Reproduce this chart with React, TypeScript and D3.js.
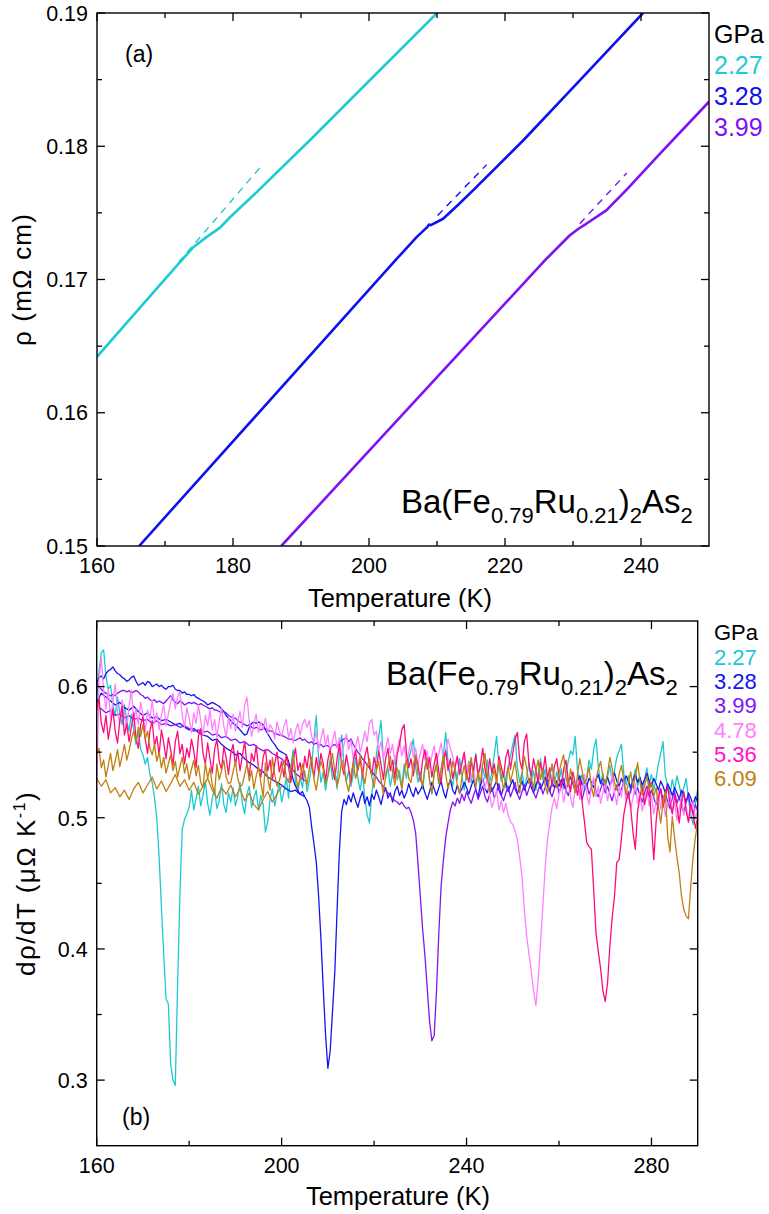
import React from "react";
import * as d3 from "d3";

const FONT = "'Liberation Sans', Arial, Helvetica, sans-serif";

// ---------- Panel (a): resistivity ----------
const pressuresA = ["2.27", "3.28", "3.99"];
const colorsA = ["#1ecbd3", "#1010ee", "#8010f5"];

const rhoT227 = [160, 166, 172.2, 174.2, 176.1, 178.1, 179.6, 183, 191.3, 200, 210];
const rho227 = [0.1642, 0.1677, 0.1713, 0.17244, 0.17318, 0.17389, 0.17469, 0.17632, 0.18045, 0.1849, 0.19];
const rhoT328 = [166.2, 180, 195, 204.1, 207, 208.6, 208.8, 209.1, 210.9, 213, 215.3, 222.7, 230, 240.3];
const rho328 = [0.15, 0.15785, 0.16639, 0.17156, 0.17318, 0.17395, 0.17412, 0.17408, 0.17456, 0.17555, 0.17669, 0.18045, 0.1844, 0.19];
const rhoT399 = [187.1, 200, 215, 226.1, 229.5, 230.8, 232, 234.9, 238, 242.8, 250];
const rho399 = [0.15, 0.15713, 0.16543, 0.17156, 0.1733, 0.17381, 0.1742, 0.17519, 0.1768, 0.17945, 0.18334];

const dashT227 = [172, 184.4];
const dash227 = [0.1713, 0.17865];
const dashT328 = [210.1, 217.3];
const dash328 = [0.17481, 0.17862];
const dashT399 = [231.0, 237.9];
const dash399 = [0.17419, 0.17799];

// ---------- Panel (b): derivative, sampled every 0.5 K from 160 K ----------
const pressuresB = ["2.27", "3.28", "3.99", "4.78", "5.36", "6.09"];
const lineColorsB = ["#1cc8d4", "#1414f0", "#8214f5", "#ff80ff", "#ff0a78", "#c08010"];
const legendColorsB = ["#1cc8d4", "#1414f0", "#8214f5", "#ff80ff", "#ff10d0", "#c08010"];
const T0 = 160;
const DT = 0.5;

const drv227 = [
  .590,.612,.626,.628,.608,.598,.601,.585,.578,.592,.580,.571,.586,.574,.566,.579,.568,.556,.566,.552,
  .548,.541,.546,.533,.527,.515,.500,.470,.432,.396,.362,.358,.312,.300,.296,.373,.442,.491,.499,.503,
  .508,.521,.506,.515,.524,.509,.517,.528,.511,.502,.515,.522,.507,.513,.526,.510,.504,.519,.512,.523,
  .509,.516,.527,.511,.503,.518,.524,.508,.515,.521,.506,.517,.510,.489,.497,.514,.522,.509,.518,.526,
  .512,.520,.531,.515,.538,.552,.527,.519,.531,.523,.536,.520,.528,.541,.560,.578,.544,.527,.535,.521,
  .532,.545,.529,.538,.522,.551,.563,.540,.528,.536,.524,.533,.546,.530,.521,.534,.515,.502,.496,.518,
  .531,.548,.562,.574,.545,.530,.538,.524,.533,.547,.529,.536,.523,.541,.530,.545,.552,.560,.538,.527,
  .535,.522,.537,.546,.529,.518,.533,.541,.526,.537,.548,.565,.542,.531,.524,.538,.529,.545,.532,.521,
  .534,.543,.527,.536,.549,.531,.522,.538,.530,.544,.527,.535,.548,.562,.540,.528,.534,.523,.539,.547,
  .556,.563,.538,.527,.535,.522,.531,.542,.528,.536,.521,.533,.545,.529,.537,.524,.532,.540,.526,.535,
  .528,.537,.522,.534,.543,.551,.548,.562,.536,.527,.533,.521,.531,.544,.537,.552,.560,.539,.526,.534,
  .522,.531,.540,.528,.536,.546,.551,.556,.534,.525,.532,.519,.528,.537,.524,.531,.520,.529,.538,.526,
  .533,.521,.530,.541,.549,.558,.532,.524,.518,.529,.521,.532,.525,.516,.523,.530,.514,.503,.495,.511,
  .522,
];
const drv328 = [
  .603,.607,.608,.606,.610,.612,.613,.615,.612,.610,.609,.607,.606,.604,.605,.607,.608,.604,.601,.602,
  .603,.601,.604,.603,.600,.601,.602,.600,.601,.599,.598,.600,.600,.601,.598,.597,.597,.595,.596,.594,
  .594,.593,.594,.592,.591,.590,.589,.588,.586,.587,.588,.587,.586,.585,.583,.581,.578,.576,.574,.572,
  .571,.569,.567,.565,.563,.564,.569,.572,.573,.572,.573,.572,.571,.567,.564,.561,.558,.556,.553,.551,
  .550,.549,.548,.543,.536,.529,.524,.521,.518,.520,.516,.513,.508,.493,.480,.466,.440,.408,.370,.335,
  .309,.322,.352,.382,.430,.475,.505,.514,.510,.517,.512,.519,.513,.508,.515,.520,.511,.516,.509,.518,
  .514,.521,.516,.510,.518,.523,.515,.519,.512,.520,.524,.517,.521,.515,.519,.526,.520,.516,.523,.518,
  .521,.525,.519,.514,.520,.527,.522,.517,.523,.528,.520,.515,.524,.529,.521,.518,.525,.519,.522,.527,
  .523,.518,.524,.529,.521,.516,.525,.530,.522,.519,.526,.520,.524,.528,.521,.517,.523,.527,.520,.525,
  .529,.522,.518,.524,.528,.521,.526,.530,.523,.519,.525,.529,.522,.526,.531,.524,.520,.527,.523,.528,
  .524,.529,.525,.521,.527,.531,.526,.522,.528,.532,.525,.529,.524,.530,.527,.523,.529,.533,.526,.530,
  .527,.531,.525,.529,.534,.528,.524,.530,.526,.532,.528,.523,.529,.533,.527,.531,.525,.529,.534,.528,
  .524,.530,.526,.521,.528,.524,.519,.526,.522,.517,.523,.519,.514,.521,.517,.512,.519,.515,.510,.516,
  .512,
];
const drv399 = [
  .603,.600,.598,.596,.595,.594,.593,.594,.593,.595,.596,.597,.597,.596,.597,.595,.596,.597,.596,.594,
  .593,.591,.592,.590,.589,.590,.588,.589,.588,.587,.589,.591,.593,.590,.588,.587,.589,.588,.586,.587,
  .588,.587,.588,.587,.586,.587,.586,.585,.584,.583,.584,.582,.582,.581,.580,.581,.580,.578,.577,.576,
  .576,.574,.573,.572,.571,.570,.571,.569,.568,.569,.568,.567,.568,.568,.567,.566,.566,.564,.564,.563,
  .563,.562,.561,.560,.560,.559,.559,.560,.561,.559,.560,.558,.557,.558,.556,.557,.555,.556,.554,.555,
  .555,.553,.555,.556,.554,.557,.559,.560,.561,.558,.560,.556,.553,.550,.548,.545,.543,.540,.538,.535,
  .533,.531,.528,.526,.524,.521,.519,.517,.515,.513,.512,.510,.512,.509,.507,.508,.504,.498,.488,.465,
  .440,.415,.395,.370,.345,.330,.334,.368,.412,.448,.468,.485,.496,.506,.512,.509,.515,.511,.518,.513,
  .520,.515,.511,.517,.522,.514,.519,.524,.516,.512,.518,.523,.515,.520,.526,.517,.513,.519,.524,.516,
  .521,.527,.518,.514,.520,.525,.517,.522,.528,.519,.515,.521,.526,.518,.523,.529,.520,.516,.522,.527,
  .519,.524,.530,.521,.517,.523,.528,.520,.525,.519,.514,.521,.526,.518,.523,.529,.520,.516,.522,.527,
  .519,.524,.518,.513,.520,.525,.517,.522,.527,.519,.515,.521,.526,.518,.523,.517,.512,.519,.524,.516,
  .521,.515,.510,.517,.522,.514,.519,.512,.507,.515,.520,.511,.516,.509,.504,.512,.517,.508,.503,.510,
  .505,
];
const drv478 = [
  .520,.605,.622,.596,.583,.598,.576,.589,.602,.581,.572,.590,.579,.568,.585,.597,.574,.583,.571,.588,
  .579,.566,.582,.575,.590,.572,.580,.567,.578,.586,.570,.579,.588,.595,.583,.592,.596,.578,.569,.584,
  .576,.565,.580,.572,.586,.574,.563,.578,.570,.582,.567,.575,.561,.574,.583,.570,.562,.576,.568,.579,
  .566,.573,.581,.569,.586,.592,.574,.562,.571,.579,.565,.573,.567,.576,.564,.571,.568,.560,.573,.566,
  .562,.570,.575,.561,.568,.557,.566,.572,.563,.571,.575,.569,.574,.562,.557,.566,.552,.560,.568,.555,
  .563,.549,.558,.566,.553,.561,.547,.556,.564,.552,.559,.545,.554,.562,.550,.557,.566,.558,.572,.575,
  .563,.566,.551,.558,.545,.553,.561,.549,.556,.543,.552,.560,.547,.555,.541,.550,.558,.546,.553,.540,
  .549,.556,.544,.551,.538,.547,.555,.542,.549,.557,.545,.552,.560,.553,.547,.539,.546,.533,.541,.548,
  .535,.542,.530,.538,.526,.534,.541,.528,.522,.531,.517,.508,.514,.521,.506,.513,.504,.511,.502,.497,
  .495,.490,.483,.470,.455,.430,.410,.396,.383,.368,.357,.377,.405,.432,.462,.483,.496,.508,.515,.507,
  .518,.526,.512,.521,.530,.515,.508,.522,.529,.514,.520,.533,.518,.510,.523,.531,.516,.524,.511,.519,
  .527,.513,.521,.534,.519,.510,.524,.516,.529,.512,.520,.507,.515,.526,.511,.519,.505,.514,.522,.509,
  .517,.503,.512,.520,.507,.515,.501,.510,.518,.504,.512,.498,.507,.515,.502,.509,.496,.505,.512,.499,
  .506,
];
const drv536 = [
  .582,.591,.572,.565,.578,.560,.571,.583,.566,.557,.574,.585,.563,.572,.558,.569,.580,.561,.553,.571,
  .577,.560,.549,.566,.574,.555,.562,.548,.567,.557,.545,.561,.552,.540,.558,.566,.549,.556,.541,.553,
  .546,.560,.551,.538,.562,.568,.549,.541,.557,.545,.534,.552,.560,.543,.537,.554,.546,.533,.549,.556,
  .540,.551,.536,.547,.558,.541,.532,.549,.543,.555,.538,.531,.546,.552,.536,.544,.529,.541,.550,.535,
  .543,.531,.548,.539,.527,.544,.553,.536,.542,.530,.547,.538,.552,.540,.531,.546,.535,.549,.541,.528,
  .544,.552,.537,.529,.545,.556,.540,.533,.548,.538,.527,.543,.551,.536,.545,.531,.547,.554,.539,.532,
  .546,.537,.551,.541,.529,.545,.553,.536,.544,.530,.548,.556,.567,.571,.549,.538,.545,.532,.547,.540,
  .528,.544,.552,.537,.546,.531,.541,.549,.535,.527,.543,.551,.536,.545,.530,.538,.547,.533,.542,.550,
  .534,.527,.543,.536,.548,.532,.540,.553,.537,.529,.545,.534,.541,.528,.547,.539,.531,.546,.552,.537,
  .549,.560,.565,.544,.537,.558,.564,.541,.532,.545,.536,.527,.542,.534,.547,.530,.538,.524,.539,.545,
  .531,.523,.537,.544,.528,.520,.535,.526,.517,.530,.512,.497,.481,.478,.476,.445,.412,.398,.385,.368,
  .360,.374,.402,.424,.440,.466,.468,.484,.502,.512,.520,.508,.489,.476,.505,.516,.524,.510,.518,.527,
  .495,.468,.497,.515,.522,.508,.516,.524,.511,.503,.517,.509,.496,.512,.520,.505,.497,.511,.503,.492,
  .500,
];
const drv609 = [
  .548,.553,.538,.544,.531,.540,.549,.536,.543,.552,.539,.547,.556,.544,.551,.560,.566,.558,.569,.562,
  .571,.560,.566,.553,.548,.556,.543,.550,.538,.546,.534,.541,.548,.536,.543,.531,.539,.546,.534,.541,
  .529,.537,.544,.532,.540,.527,.523,.542,.530,.538,.525,.519,.541,.529,.536,.544,.531,.526,.527,.535,
  .543,.530,.524,.525,.533,.541,.528,.536,.522,.532,.539,.527,.516,.542,.530,.521,.546,.533,.524,.528,
  .536,.544,.531,.527,.539,.548,.535,.523,.530,.541,.533,.525,.538,.546,.529,.521,.534,.543,.537,.526,
  .532,.540,.549,.535,.524,.531,.544,.538,.527,.520,.533,.542,.530,.537,.548,.534,.526,.539,.545,.531,
  .523,.536,.543,.529,.518,.532,.540,.547,.534,.525,.538,.531,.522,.535,.544,.530,.527,.541,.548,.533,
  .532,.524,.539,.545,.528,.519,.534,.541,.526,.537,.548,.533,.522,.530,.543,.536,.525,.518,.531,.540,
  .529,.538,.546,.531,.523,.535,.527,.541,.549,.532,.520,.529,.537,.526,.544,.533,.521,.530,.539,.527,
  .535,.543,.528,.519,.533,.547,.538,.526,.531,.522,.536,.544,.529,.537,.525,.518,.532,.541,.530,.523,
  .534,.542,.548,.531,.524,.537,.528,.519,.533,.545,.536,.526,.530,.539,.524,.516,.529,.537,.543,.531,
  .525,.534,.546,.538,.527,.521,.533,.540,.529,.518,.526,.535,.523,.531,.542,.528,.517,.524,.532,.521,
  .527,.516,.523,.509,.496,.512,.520,.486,.474,.501,.485,.470,.458,.440,.430,.425,.423,.448,.470,.485,
  .498,
];

// second sweeps visible at low temperature, sampled every 1 K from 160 K
const DTB = 1;
const drv328b = [
  .588,.595,.592,.589,.586,.588,.584,.582,.585,.581,.578,.580,.576,.577,.574,.575,.573,.571,.572,.569,
  .567,.568,.565,.563,.562,.559,.560,.556,.553,.551,.548,.549,.545,.542,.540,.537,.535,.531,.529,.527,
  .525,.522,.520,.521,.518,.516,
];
const drv399b = [
  .585,.583,.580,.582,.578,.579,.576,.578,.575,.576,.574,.575,.572,.574,.571,.572,.570,.571,.569,.570,
  .568,.566,.567,.565,.566,.563,.564,.561,.562,.559,.560,.557,.558,.555,.556,.553,.551,.552,.549,.547,
  .545,.541,.538,.534,.531,.528,
];
const drv609b = [
  .530,.524,.529,.519,.523,.516,.521,.514,.522,.527,.519,.525,.531,.522,.528,.520,.526,.533,.524,.529,
  .521,.527,.518,.524,.530,.521,.515,.523,.518,.525,.516,.522,.513,.519,.510,.506,.514,.520,.512,.518,
  .524,
];

// ---------- layout ----------
const A = { x0: 97, x1: 709, y0: 13, y1: 546 };
const B = { x0: 96.7, x1: 697.7, y0: 621, y1: 1145.7 };

const xA = d3.scaleLinear().domain([160, 250]).range([A.x0, A.x1]);
const yA = d3.scaleLinear().domain([0.15, 0.19]).range([A.y1, A.y0]);
const xB = d3.scaleLinear().domain([160, 290]).range([B.x0, B.x1]);
const yB = d3.scaleLinear().domain([0.25, 0.65]).range([B.y1, B.y0]);

const MAJ = 8;
const MIN = 5;
const TICK_FS = 21.5;

function Frame({ box, xs, ys, xMaj, xMin, yMaj, yMin, yFmt }: any) {
  const els: any[] = [];
  const st = { stroke: "#000", strokeWidth: 1.3 };
  xMaj.forEach((t: number, i: number) => {
    const x = xs(t);
    els.push(<line key={"xb" + i} x1={x} x2={x} y1={box.y1} y2={box.y1 - MAJ} {...st} />);
    els.push(<line key={"xt" + i} x1={x} x2={x} y1={box.y0} y2={box.y0 + MAJ} {...st} />);
    els.push(
      <text key={"xl" + i} x={x} y={box.y1 + 27} textAnchor="middle" fontSize={TICK_FS} fontFamily={FONT}>
        {String(t)}
      </text>
    );
  });
  xMin.forEach((t: number, i: number) => {
    const x = xs(t);
    els.push(<line key={"xmb" + i} x1={x} x2={x} y1={box.y1} y2={box.y1 - MIN} {...st} />);
    els.push(<line key={"xmt" + i} x1={x} x2={x} y1={box.y0} y2={box.y0 + MIN} {...st} />);
  });
  yMaj.forEach((t: number, i: number) => {
    const y = ys(t);
    els.push(<line key={"yl" + i} x1={box.x0} x2={box.x0 + MAJ} y1={y} y2={y} {...st} />);
    els.push(<line key={"yr" + i} x1={box.x1} x2={box.x1 - MAJ} y1={y} y2={y} {...st} />);
    els.push(
      <text key={"ylab" + i} x={box.x0 - 9} y={y} dy="0.36em" textAnchor="end" fontSize={TICK_FS} fontFamily={FONT}>
        {yFmt(t)}
      </text>
    );
  });
  yMin.forEach((t: number, i: number) => {
    const y = ys(t);
    els.push(<line key={"yml" + i} x1={box.x0} x2={box.x0 + MIN} y1={y} y2={y} {...st} />);
    els.push(<line key={"ymr" + i} x1={box.x1} x2={box.x1 - MIN} y1={y} y2={y} {...st} />);
  });
  els.push(
    <rect key="frame" x={box.x0} y={box.y0} width={box.x1 - box.x0} height={box.y1 - box.y0}
      fill="none" stroke="#000" strokeWidth={1.4} />
  );
  return <g>{els}</g>;
}

function Formula({ x, y }: { x: number; y: number }) {
  const sub = 10;
  return (
    <text x={x} y={y} fontSize={33} fontFamily={FONT} fill="#000">
      <tspan>Ba(Fe</tspan>
      <tspan fontSize={22} dy={sub}>0.79</tspan>
      <tspan dy={-sub}>Ru</tspan>
      <tspan fontSize={22} dy={sub}>0.21</tspan>
      <tspan dy={-sub}>)</tspan>
      <tspan fontSize={22} dy={sub}>2</tspan>
      <tspan dy={-sub}>As</tspan>
      <tspan fontSize={22} dy={sub}>2</tspan>
    </text>
  );
}

export default function App() {
  const lineA = d3.line<[number, number]>().x((d) => xA(d[0])).y((d) => yA(d[1]));
  const zip = (ts: number[], vs: number[]) => ts.map((t, i) => [t, vs[i]] as [number, number]);

  const solidA = [zip(rhoT227, rho227), zip(rhoT328, rho328), zip(rhoT399, rho399)];
  const dashA = [zip(dashT227, dash227), zip(dashT328, dash328), zip(dashT399, dash399)];

  const lineB = (step: number) =>
    d3.line<number>().x((_, i) => xB(T0 + i * step)).y((d) => yB(d));

  const mainB = [drv227, drv328, drv399, drv478, drv536, drv609];
  const extraB: [number[], number][] = [[drv328b, 1], [drv399b, 2], [drv609b, 5]];

  return (
    <svg width={769} height={1214} viewBox="0 0 769 1214"
      style={{ display: "block", background: "#fff", position: "absolute", left: 0, top: 0 }}>
      <defs>
        <clipPath id="clipA">
          <rect x={A.x0} y={A.y0} width={A.x1 - A.x0} height={A.y1 - A.y0} />
        </clipPath>
        <clipPath id="clipB">
          <rect x={B.x0} y={B.y0} width={B.x1 - B.x0} height={B.y1 - B.y0} />
        </clipPath>
      </defs>

      {/* ----- panel (a) ----- */}
      <g clipPath="url(#clipA)">
        {dashA.map((d, i) => (
          <path key={"da" + i} d={lineA(d) || ""} fill="none" stroke={colorsA[i]} strokeWidth={1.4} strokeDasharray="7,6" />
        ))}
        {solidA.map((d, i) => (
          <path key={"sa" + i} d={lineA(d) || ""} fill="none" stroke={colorsA[i]} strokeWidth={2.6} strokeLinejoin="round" />
        ))}
      </g>
      <Frame box={A} xs={xA} ys={yA}
        xMaj={d3.range(160, 241, 20)} xMin={d3.range(170, 241, 20)}
        yMaj={[0.15, 0.16, 0.17, 0.18, 0.19]} yMin={[0.155, 0.165, 0.175, 0.185]}
        yFmt={d3.format(".2f")} />
      <text x={125} y={62} fontSize={23} fontFamily={FONT}>(a)</text>
      <Formula x={401} y={513} />
      <text x={400} y={607} textAnchor="middle" fontSize={25.5} fontFamily={FONT}>Temperature (K)</text>
      <text transform={`translate(31,${(A.y0 + A.y1) / 2}) rotate(-90)`} textAnchor="middle" fontSize={26}
        letterSpacing={1.2} fontFamily={FONT}>
        ρ (mΩ cm)
      </text>
      <text x={714} y={43} fontSize={25} fontFamily={FONT}>GPa</text>
      {pressuresA.map((p, i) => (
        <text key={"la" + i} x={714} y={74 + i * 31} fontSize={25} fontFamily={FONT} fill={colorsA[i]}>{p}</text>
      ))}

      {/* ----- panel (b) ----- */}
      <g clipPath="url(#clipB)">
        {mainB.map((vals, i) => (
          <g key={"gb" + i}>
            {extraB.filter((e) => e[1] === i).map((e, j) => (
              <path key={"eb" + j} d={lineB(DTB)(e[0]) || ""} fill="none" stroke={lineColorsB[i]} strokeWidth={1.3} strokeLinejoin="round" />
            ))}
            <path d={lineB(DT)(vals) || ""} fill="none" stroke={lineColorsB[i]} strokeWidth={1.3} strokeLinejoin="round" />
          </g>
        ))}
      </g>
      <Frame box={B} xs={xB} ys={yB}
        xMaj={[160, 200, 240, 280]} xMin={[180, 220, 260]}
        yMaj={[0.3, 0.4, 0.5, 0.6]} yMin={[0.35, 0.45, 0.55]}
        yFmt={d3.format(".1f")} />
      <text x={122} y={1125} fontSize={23} fontFamily={FONT}>(b)</text>
      <Formula x={386} y={685} />
      <text x={398} y={1205} textAnchor="middle" fontSize={25.5} fontFamily={FONT}>Temperature (K)</text>
      <text transform={`translate(35,${(B.y0 + B.y1) / 2}) rotate(-90)`} textAnchor="middle" fontSize={26}
        letterSpacing={1.5} fontFamily={FONT}>
        dρ/dT (μΩ K<tspan fontSize={16} dy={-10}>-1</tspan><tspan dy={10}>)</tspan>
      </text>
      <text x={714} y={640} fontSize={22} fontFamily={FONT}>GPa</text>
      {pressuresB.map((p, i) => (
        <text key={"lb" + i} x={714} y={665 + i * 24.2} fontSize={22} fontFamily={FONT} fill={legendColorsB[i]}>{p}</text>
      ))}
    </svg>
  );
}
